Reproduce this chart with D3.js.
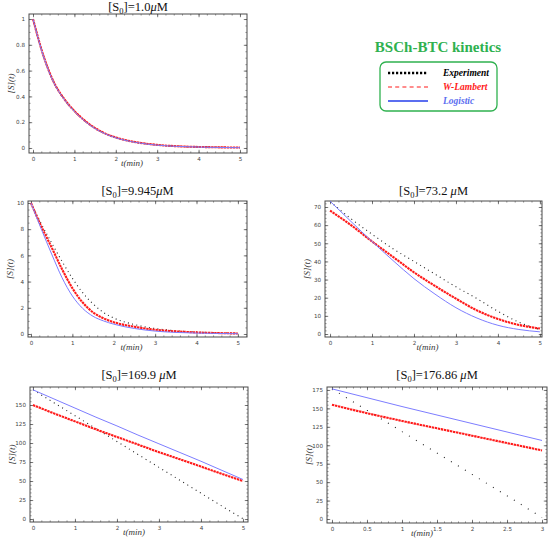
<!DOCTYPE html>
<html>
<head>
<meta charset="utf-8">
<script src="https://cdn.jsdelivr.net/npm/d3@7"></script>
<style>
  body { margin: 0; background: #fff; }
  svg { display: block; }
</style>
</head>
<body>
<svg id="chart" width="550" height="542"></svg>
<script>
// === DATA ===
// time samples, minutes
const tDense = [0, 0.25, 0.5, 0.75, 1, 1.25, 1.5, 1.75, 2, 2.5, 3, 3.5, 4, 4.5, 5];
const tLong = [0, 0.5, 1, 1.5, 2, 2.5, 3, 3.5, 4, 4.5, 5];
const tShort = [0, 0.5, 1, 1.5, 2, 2.5, 3];

// [S0] = 1.0 uM
const exp1 = [1, 0.715, 0.51, 0.38, 0.285, 0.21, 0.152, 0.11, 0.08, 0.043, 0.023, 0.013, 0.008, 0.005, 0.003];
const wl1  = [1, 0.717, 0.512, 0.382, 0.287, 0.212, 0.154, 0.111, 0.081, 0.044, 0.024, 0.013, 0.008, 0.005, 0.003];
const log1 = [1, 0.713, 0.508, 0.378, 0.283, 0.208, 0.15, 0.109, 0.079, 0.042, 0.022, 0.012, 0.007, 0.004, 0.002];

// [S0] = 9.945 uM
const exp2 = [10, 8.4, 6.95, 5.55, 4.25, 3.15, 2.3, 1.65, 1.22, 0.72, 0.42, 0.25, 0.15, 0.09, 0.05];
const wl2  = [10, 8.2, 6.6, 4.95, 3.5, 2.4, 1.65, 1.2, 0.9, 0.55, 0.32, 0.2, 0.12, 0.07, 0.04];
const log2 = [10, 8.0, 6.1, 4.3, 2.9, 1.95, 1.35, 1.0, 0.75, 0.42, 0.22, 0.12, 0.07, 0.04, 0.02];

// [S0] = 73.2 uM
const exp3 = [73, 63.5, 55, 47, 40, 33, 26, 19.5, 12.5, 6.5, 2.5];
const wl3  = [68, 60, 51, 42.5, 34, 26.5, 19.5, 13, 8.3, 5, 3];
const log3 = [73.2, 62, 51, 40.5, 30.5, 22, 14.5, 8.8, 4.8, 2.5, 1.2];

// [S0] = 169.9 uM
const exp4 = [170, 153, 136, 119, 102, 85, 68, 51, 34, 17, 0.5];
const wl4  = [150, 139, 128.5, 118, 108, 98, 88, 78.5, 69, 59.5, 50];
const log4 = [170, 158, 146, 134, 122.5, 110.5, 99, 87.5, 76, 64, 52];

// [S0] = 176.86 uM
const exp5 = [176.5, 147.5, 118.5, 89.5, 60.5, 31.5, 2];
const wl5  = [155, 143.5, 133, 123, 113, 103, 93];
const log5 = [176.5, 164.5, 152.5, 141, 129.5, 118, 106.5];

// tick values
const xTicksLong = [0, 1, 2, 3, 4, 5];
const xTicksShort = [0, 0.5, 1, 1.5, 2, 2.5, 3];
const yTicks1 = [0, 0.2, 0.4, 0.6, 0.8, 1];
const yTicks2 = [0, 2, 4, 6, 8, 10];
const yTicks3 = [0, 10, 20, 30, 40, 50, 60, 70];
const yTicks4 = [0, 25, 50, 75, 100, 125, 150];
const yTicks5 = [0, 25, 50, 75, 100, 125, 150, 175];

const s0Labels = ["1.0", "9.945", "73.2 ", "169.9 ", "176.86 "];
const seriesNames = ["Experiment", "W-Lambert", "Logistic"];

// === STYLE ===
const colors = { exp: "#222", wl: "#ff1a1a", log: "#7d7dff", green: "#2fb14f", legendBlue: "#5b6ef0" };

// panel frames (pixel box) and visible domains
const panels = [
  { box: [29, 14, 247, 153], xd: [-0.097, 5.17], yd: [-0.039, 1.039], t: tDense, exp: exp1, wl: wl1, log: log1,
    xt: xTicksLong, yt: yTicks1, xm: 0.2, ym: 0.05, s0: s0Labels[0], titleY: 11, dots: "1 1.3", xlabDx: -6 },
  { box: [28, 201, 247, 337], xd: [-0.072, 5.22], yd: [-0.23, 10.15], t: tDense, exp: exp2, wl: wl2, log: log2,
    xt: xTicksLong, yt: yTicks2, xm: 0.2, ym: 0.5, s0: s0Labels[1], titleY: 195, dots: "1 3.3", xlabDx: -6 },
  { box: [325, 201, 542, 337], xd: [-0.12, 5.05], yd: [-1.65, 73.3], t: tLong, exp: exp3, wl: wl3, log: log3,
    xt: xTicksLong, yt: yTicks3, xm: 0.2, ym: 2, s0: s0Labels[2], titleY: 195, dots: "1 3.6", xlabDx: -6 },
  { box: [30, 387, 248, 522], xd: [-0.07, 5.12], yd: [-3.9, 173.7], t: tLong, exp: exp4, wl: wl4, log: log4,
    xt: xTicksLong, yt: yTicks4, xm: 0.2, ym: 5, s0: s0Labels[3], titleY: 379, dots: "1 3.9", xlabDx: -5 },
  { box: [327, 387, 547, 523], xd: [-0.071, 3.071], yd: [-5.4, 179], t: tShort, exp: exp5, wl: wl5, log: log5,
    xt: xTicksShort, yt: yTicks5, xm: 0.1, ym: 5, s0: s0Labels[4], titleY: 379, dots: "1 7.2", xlabDx: -15 }
];

const svg = d3.select("#chart");

panels.forEach(p => drawPanel(p));
drawLegend();

function drawPanel(p) {
  const [x0, y0, x1, y1] = p.box;
  const x = d3.scaleLinear().domain(p.xd).range([x0, x1]);
  const y = d3.scaleLinear().domain(p.yd).range([y1, y0]);
  const g = svg.append("g");

  const minorX = d3.range(0, p.xd[1] + 1e-9, p.xm).filter(v => v >= p.xd[0]);
  const minorY = d3.range(0, p.yd[1] + 1e-9, p.ym).filter(v => v >= p.yd[0]);
  const fmt = v => String(+v.toFixed(3));
  const makeAxis = i => i === 0 ? d3.axisBottom(x) : i === 1 ? d3.axisTop(x) : i === 2 ? d3.axisLeft(y) : d3.axisRight(y);
  const places = [`translate(0,${y1})`, `translate(0,${y0})`, `translate(${x0},0)`, `translate(${x1},0)`];

  // major + minor ticks, inward, on all four sides (labels only bottom/left)
  places.forEach((tr, i) => {
    const isX = i < 2;
    g.append("g").attr("transform", tr)
      .call(makeAxis(i).tickValues(isX ? minorX : minorY).tickSize(-1.6).tickFormat(""))
      .call(s => s.select(".domain").remove())
      .call(s => s.selectAll("line").attr("stroke", "#555").attr("stroke-width", 0.6));

    g.append("g").attr("transform", tr)
      .call(makeAxis(i)
        .tickValues(isX ? p.xt : p.yt)
        .tickSize(-3.2)
        .tickPadding(4)
        .tickFormat(i === 0 || i === 2 ? fmt : ""))
      .call(s => s.select(".domain").remove())
      .call(s => s.selectAll("line").attr("stroke", "#444").attr("stroke-width", 0.7))
      .call(s => s.selectAll("text")
        .attr("font-family", "DejaVu Sans")
        .attr("font-size", 5.6)
        .attr("fill", "#444"));
  });

  // frame
  g.append("rect")
    .attr("x", x0).attr("y", y0)
    .attr("width", x1 - x0).attr("height", y1 - y0)
    .attr("fill", "none").attr("stroke", "#4a4a4a").attr("stroke-width", 1);

  const line = vals => d3.line()
    .x((d, i) => x(p.t[i]))
    .y(d => y(d))
    .curve(d3.curveMonotoneX)(vals);

  // experiment (dotted)
  g.append("path").attr("d", line(p.exp))
    .attr("fill", "none").attr("stroke", colors.exp)
    .attr("stroke-width", 1.1).attr("stroke-dasharray", p.dots);

  // W-Lambert (thick red dashed)
  g.append("path").attr("d", line(p.wl))
    .attr("fill", "none").attr("stroke", colors.wl)
    .attr("stroke-width", 2.1).attr("stroke-dasharray", "2.4 0.7");

  // Logistic (thin blue)
  g.append("path").attr("d", line(p.log))
    .attr("fill", "none").attr("stroke", colors.log)
    .attr("stroke-width", 1);

  // title [S0]=...
  const title = g.append("text")
    .attr("x", (x0 + x1) / 2)
    .attr("y", p.titleY)
    .attr("text-anchor", "middle")
    .attr("font-family", "Liberation Serif")
    .attr("font-size", 12.5)
    .attr("fill", "#111");
  title.append("tspan").text("[S");
  title.append("tspan").attr("font-size", 8.5).attr("dy", 2.5).text("0");
  title.append("tspan").attr("dy", -2.5).text("]=" + p.s0);
  title.append("tspan").attr("font-style", "italic").text("\u03bc");
  title.append("tspan").text("M");

  // axis labels
  g.append("text")
    .attr("x", (x0 + x1) / 2 + p.xlabDx)
    .attr("y", y1 + 13)
    .attr("text-anchor", "middle")
    .attr("font-family", "Liberation Serif")
    .attr("font-style", "italic")
    .attr("font-size", 9)
    .attr("fill", "#333")
    .text("t(min)");

  g.append("text")
    .attr("transform", `translate(${x0 - 15.5},${(y0 + y1) / 2}) rotate(-90)`)
    .attr("text-anchor", "middle")
    .attr("font-family", "Liberation Serif")
    .attr("font-style", "italic")
    .attr("font-size", 9)
    .attr("fill", "#333")
    .text("[S](t)");
}

function drawLegend() {
  const lg = svg.append("g");

  lg.append("text")
    .attr("x", 438).attr("y", 52)
    .attr("text-anchor", "middle")
    .attr("font-family", "Liberation Serif")
    .attr("font-weight", "bold")
    .attr("font-size", 15)
    .attr("fill", colors.green)
    .text("BSCh-BTC kinetics");

  lg.append("rect")
    .attr("x", 380).attr("y", 62)
    .attr("width", 117).attr("height", 49)
    .attr("rx", 6)
    .attr("fill", "none")
    .attr("stroke", colors.green)
    .attr("stroke-width", 1.3);

  const rowY = d3.scalePoint().domain(seriesNames).range([73, 101]);
  const sample = [
    { stroke: "#000", width: 2.4, dash: "2.2 1.8" },
    { stroke: colors.wl, width: 1.1, dash: "4 3.2" },
    { stroke: colors.legendBlue, width: 1.8, dash: null }
  ];
  const textColors = ["#000", colors.wl, colors.legendBlue];

  seriesNames.forEach((name, i) => {
    const yy = rowY(name);
    lg.append("line")
      .attr("x1", 388).attr("x2", 428)
      .attr("y1", yy).attr("y2", yy)
      .attr("stroke", sample[i].stroke)
      .attr("stroke-width", sample[i].width)
      .attr("stroke-dasharray", sample[i].dash);
    lg.append("text")
      .attr("x", 443).attr("y", yy + 3)
      .attr("font-family", "Liberation Serif")
      .attr("font-style", "italic")
      .attr("font-weight", "bold")
      .attr("font-size", 9.5)
      .attr("fill", textColors[i])
      .text(name);
  });
}
</script>
</body>
</html>
